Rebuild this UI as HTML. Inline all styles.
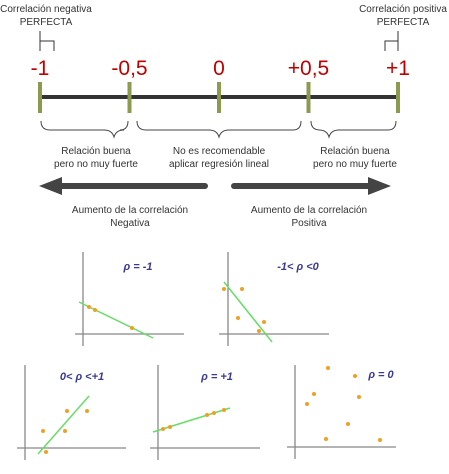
<!DOCTYPE html>
<html><head><meta charset="utf-8"><style>
html,body{margin:0;padding:0;background:#fff;width:449px;height:474px;overflow:hidden}
svg{display:block}
.t{font-family:"Liberation Sans",sans-serif;font-size:10px;fill:#333}
.n{font-family:"Liberation Sans",sans-serif;font-size:21px;fill:#c00000}
.r{font-family:"Liberation Sans",sans-serif;font-size:11px;font-weight:bold;font-style:italic;fill:#3a3a90}
</style></head><body>
<svg id="c" width="449" height="474">
<g>
<text class="t" x="46" y="12" text-anchor="middle">Correlación negativa</text>
<text class="t" x="46" y="25" text-anchor="middle">PERFECTA</text>
<path d="M40,31V51M40,41H54V51" stroke="#333" fill="none"/>
<text class="t" x="403" y="12" text-anchor="middle">Correlación positiva</text>
<text class="t" x="403" y="25" text-anchor="middle">PERFECTA</text>
<path d="M398,31V51M398,41H385V51" stroke="#333" fill="none"/>
</g>
<line x1="40" y1="97" x2="398" y2="97" stroke="#333" stroke-width="4"/>
<g id="ticks"></g>
<g stroke="#444" fill="none" stroke-width="1">
<path d="M41,121q0,9 9,9H104q8,0 10,7q2,-7 10,-7H120q8,0 8,-9"/>
<path d="M137,121q0,9 9,9H209q8,0 10,7q2,-7 10,-7H293q8,0 8,-9"/>
<path d="M311,121q0,9 9,9H319q8,0 10,7q2,-7 10,-7H388q8,0 8,-9"/>
</g>
<text class="t" x="96" y="154" text-anchor="middle">Relación buena</text>
<text class="t" x="96" y="167" text-anchor="middle">pero no muy fuerte</text>
<text class="t" x="219" y="154" text-anchor="middle">No es recomendable</text>
<text class="t" x="219" y="167" text-anchor="middle">aplicar regresión lineal</text>
<text class="t" x="355" y="154" text-anchor="middle">Relación buena</text>
<text class="t" x="355" y="167" text-anchor="middle">pero no muy fuerte</text>
<g fill="#444">
<line x1="58" y1="186" x2="205" y2="186" stroke="#444" stroke-width="6" stroke-linecap="round"/>
<polygon points="39,186 62,177 62,195"/>
</g>
<g fill="#444">
<line x1="234" y1="186" x2="372" y2="186" stroke="#444" stroke-width="6" stroke-linecap="round"/>
<polygon points="391,186 368,177 368,195"/>
</g>
<text class="t" x="130" y="213" text-anchor="middle">Aumento de la correlación</text>
<text class="t" x="130" y="226" text-anchor="middle">Negativa</text>
<text class="t" x="309" y="213" text-anchor="middle">Aumento de la correlación</text>
<text class="t" x="309" y="226" text-anchor="middle">Positiva</text>
<g id="plots"></g>
</svg>
<script>
const tickValues=[-1,-0.5,0,0.5,1];
const tickLabels=["-1","-0,5","0","+0,5","+1"];
const titles=["ρ = -1","-1< ρ <0","0< ρ <+1","ρ = +1","ρ = 0"];
const ptsX=[[0.6,1.2,4.9],[-0.4,1.4,1,3.6,3.1],[1.8,4.2,6.2,4,2.1],[0.5,1.2,4.9,5.6,6.6],[3.3,6,1.9,1.2,6.4,5.3,3.1,8.5]];
const ptsY=[[2.7,2.4,0.6],[4.5,4.5,1.6,1.2,0.3],[1.7,3.7,3.7,1.7,-0.4],[1.9,2.1,3.3,3.5,3.8],[7.9,7.1,5.3,4.3,5,2.3,0.8,0.7]];
const fitX=[[-0.4,7],[-0.4,4.4],[1.3,6.4],[-0.5,7.2]];
const fitY=[[3.2,-0.4],[5.2,-0.8],[-0.6,5.2],[1.6,4]];
const ns="http://www.w3.org/2000/svg";
function mk(t,a,p){const e=document.createElementNS(ns,t);for(const k in a)e.setAttribute(k,a[k]);p.appendChild(e);return e;}
const sx=v=>40+(v+1)*179;
const tg=document.getElementById('ticks');
tickValues.forEach((v,i)=>{
 const l=mk('line',{x1:sx(v),y1:82,x2:sx(v),y2:113,stroke:'#8b9a4f','stroke-width':4},tg);
 
 
 const t=mk('text',{x:sx(v),y:75,'class':'n','text-anchor':'middle'},tg);
 t.textContent=tickLabels[i];
 
 
});
const frames=[{ox:83,oy:334,top:252,x0:75,x1:184,tx:138,ty:270},{ox:228,oy:334,top:252,x0:219,x1:329,tx:298,ty:270},{ox:25,oy:448,top:365,x0:17,x1:126,tx:82,ty:380},{ox:158,oy:448,top:365,x0:150,x1:260,tx:217,ty:380},{ox:295,oy:447,top:365,x0:287,x1:396,tx:381,ty:378}];
const U=10;
const pg=document.getElementById('plots');
frames.forEach((f,i)=>{
 const g=mk('g',{},pg);
 
 
 const X=v=>f.ox+v*U,Y=v=>f.oy-v*U;
 mk('line',{x1:f.ox,y1:f.top,x2:f.ox,y2:f.oy+12,stroke:'#666','stroke-width':1},g);
 mk('line',{x1:f.x0,y1:f.oy,x2:f.x1,y2:f.oy,stroke:'#888','stroke-width':1.2},g);
 const t=mk('text',{x:f.tx,y:f.ty,'class':'r','text-anchor':'middle'},g);t.textContent=titles[i];
 if(fitX[i]){const l=mk('line',{x1:X(fitX[i][0]),y1:Y(fitY[i][0]),x2:X(fitX[i][1]),y2:Y(fitY[i][1]),stroke:'#66dd66','stroke-width':1.5},g);
  
  }
 ptsX[i].forEach((x,j)=>{const c=mk('circle',{cx:X(x),cy:Y(ptsY[i][j]),r:2,fill:'#f0a020'},g);
  
  });
});
</script>
</body></html>
